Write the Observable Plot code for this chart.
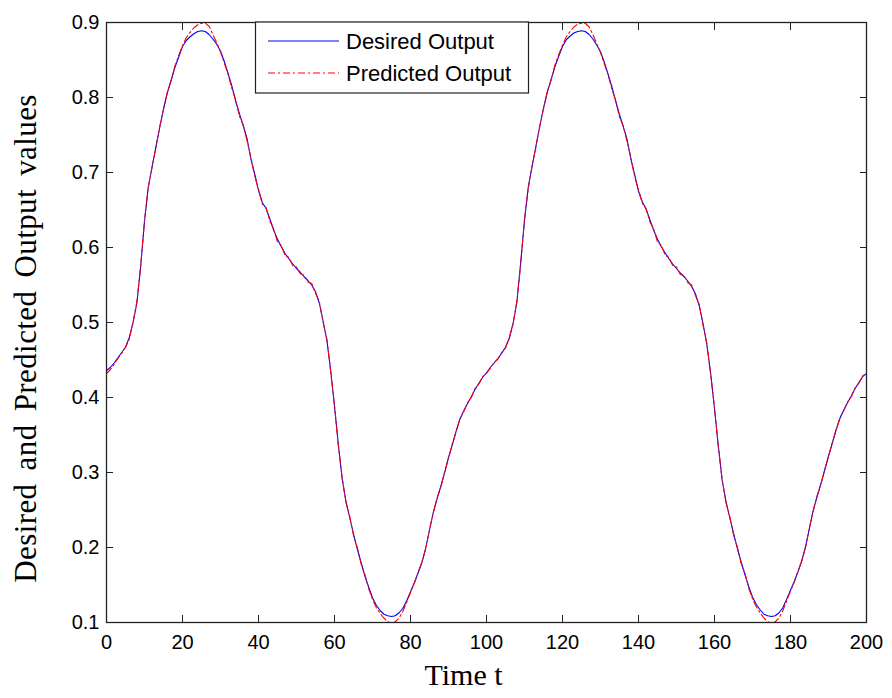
<!DOCTYPE html>
<html><head><meta charset="utf-8">
<script src="https://cdn.jsdelivr.net/npm/d3@7"></script>
<script src="https://cdn.jsdelivr.net/npm/@observablehq/plot@0.6"></script>
<style>body{margin:0;background:#fff} #chart{width:892px;height:698px}</style>
</head><body><div id="chart"></div>
<script>
// Desired output, t = 0..200
const desired = [
 0.436,0.440,0.446,0.453,0.460,0.467,0.480,0.500,0.526,0.575,
 0.635,0.681,0.707,0.734,0.760,0.785,0.806,0.823,0.840,0.854,
 0.868,0.876,0.881,0.885,0.888,0.889,0.888,0.884,0.878,0.871,
 0.862,0.848,0.832,0.815,0.795,0.778,0.762,0.745,0.718,0.698,
 0.676,0.660,0.652,0.638,0.623,0.611,0.601,0.592,0.585,0.578,
 0.572,0.567,0.561,0.556,0.550,0.541,0.526,0.502,0.476,0.436,
 0.388,0.338,0.292,0.262,0.240,0.218,0.198,0.180,0.162,0.147,
 0.133,0.123,0.116,0.111,0.109,0.108,0.109,0.113,0.119,0.129,
 0.141,0.153,0.166,0.180,0.199,0.223,0.247,0.265,0.282,0.300,
 0.320,0.337,0.355,0.371,0.382,0.392,0.401,0.411,0.419,0.427,
 0.433,
 0.440,0.446,0.452,0.459,0.467,0.479,0.499,0.527,0.580,
 0.636,0.681,0.708,0.735,0.761,0.786,0.807,0.824,0.841,0.855,
 0.868,0.877,0.882,0.886,0.888,0.889,0.888,0.884,0.878,0.870,
 0.861,0.847,0.831,0.814,0.795,0.777,0.761,0.744,0.718,0.697,
 0.675,0.661,0.651,0.637,0.623,0.611,0.601,0.593,0.585,0.578,
 0.572,0.566,0.561,0.555,0.548,0.538,0.522,0.498,0.470,0.432,
 0.385,0.336,0.290,0.262,0.240,0.219,0.199,0.181,0.164,0.148,
 0.134,0.124,0.117,0.111,0.109,0.108,0.109,0.113,0.120,0.131,
 0.143,0.155,0.168,0.183,0.202,0.226,0.250,0.268,0.285,0.303,
 0.322,0.339,0.357,0.372,0.383,0.393,0.402,0.412,0.420,0.428,
 0.432
];
// Predicted output, t = 0..200
const predicted = [
 0.432,0.437,0.444,0.452,0.459,0.467,0.478,0.501,0.528,0.576,
 0.636,0.680,0.708,0.733,0.761,0.784,0.807,0.822,0.842,0.856,
 0.869,0.880,0.887,0.893,0.897,0.899,0.899,0.895,0.884,0.873,
 0.861,0.846,0.831,0.812,0.797,0.775,0.763,0.742,0.720,0.695,
 0.678,0.658,0.653,0.635,0.625,0.607,0.603,0.589,0.587,0.576,
 0.574,0.565,0.563,0.554,0.552,0.539,0.528,0.500,0.478,0.434,
 0.390,0.336,0.294,0.260,0.242,0.216,0.200,0.178,0.164,0.145,
 0.131,0.120,0.112,0.106,0.101,0.099,0.101,0.106,0.115,0.127,
 0.140,0.152,0.167,0.181,0.198,0.224,0.246,0.266,0.281,0.301,
 0.319,0.338,0.354,0.372,0.381,0.393,0.400,0.412,0.418,0.428,
 0.432,
 0.439,0.447,0.451,0.460,0.466,0.480,0.498,0.529,0.578,
 0.638,0.679,0.709,0.734,0.762,0.785,0.808,0.823,0.843,0.857,
 0.870,0.881,0.888,0.894,0.898,0.899,0.899,0.894,0.884,0.872,
 0.860,0.845,0.830,0.811,0.796,0.774,0.762,0.741,0.720,0.694,
 0.677,0.659,0.652,0.634,0.625,0.607,0.603,0.590,0.587,0.576,
 0.574,0.564,0.563,0.553,0.550,0.536,0.524,0.496,0.472,0.430,
 0.387,0.334,0.292,0.260,0.242,0.217,0.201,0.179,0.166,0.146,
 0.132,0.121,0.113,0.106,0.101,0.099,0.101,0.106,0.116,0.129,
 0.142,0.154,0.169,0.182,0.201,0.227,0.249,0.269,0.284,0.304,
 0.321,0.340,0.356,0.373,0.382,0.394,0.401,0.413,0.419,0.429,
 0.431
];
const xTicks = [0,20,40,60,80,100,120,140,160,180,200];
const yTicks = [0.1,0.2,0.3,0.4,0.5,0.6,0.7,0.8,0.9];
const seriesNames = ["Desired Output","Predicted Output"];
const seriesColors = ["#0000ff","#ff0000"];
const seriesDash = [null,"7,3,2,3"];
const xLabel = "Time t";
const yLabel = "Desired and Predicted Output values";

const time = d3.range(desired.length);
const rowsDesired = time.map(i => ({t: i, v: desired[i]}));
const rowsPredicted = time.map(i => ({t: i, v: predicted[i]}));

const sans = "'Liberation Sans', Arial, sans-serif";
const serif = "'Liberation Serif', 'Times New Roman', serif";
const frameColor = "#222";

const chart = Plot.plot({
  width: 892, height: 698,
  marginLeft: 106, marginRight: 26, marginTop: 22, marginBottom: 76,
  style: {fontFamily: sans, fontSize: "20px", color: "#000", background: "#fff", overflow: "visible"},
  x: {domain: [0, 200]},
  y: {domain: [0.1, 0.9]},
  marks: [
    Plot.line(rowsDesired, {x: "t", y: "v", stroke: seriesColors[0], strokeWidth: 1.1, clip: true}),
    Plot.line(rowsPredicted, {x: "t", y: "v", stroke: seriesColors[1], strokeWidth: 1.1, strokeDasharray: seriesDash[1], clip: true}),
    Plot.frame({stroke: frameColor, strokeWidth: 1.3}),
    Plot.axisX(xTicks, {anchor: "bottom", tickSize: 0, tickPadding: 12, label: null, fill: "#000"}),
    Plot.axisX(xTicks, {anchor: "bottom", tickSize: -7, tickFormat: () => "", label: null, stroke: frameColor}),
    Plot.axisX(xTicks, {anchor: "top", tickSize: -7, tickFormat: () => "", label: null, stroke: frameColor}),
    Plot.axisY(yTicks, {anchor: "left", tickSize: 0, tickPadding: 7, tickFormat: d3.format(".1f"), label: null, fill: "#000"}),
    Plot.axisY(yTicks, {anchor: "left", tickSize: -7, tickFormat: () => "", label: null, stroke: frameColor}),
    Plot.axisY(yTicks, {anchor: "right", tickSize: -7, tickFormat: () => "", label: null, stroke: frameColor}),
    Plot.text([xLabel], {frameAnchor: "bottom", textAnchor: "middle", lineAnchor: "top", dx: -23, dy: 41, fontFamily: serif, fontSize: 30, fill: "#000"}),
    Plot.text([yLabel], {frameAnchor: "left", textAnchor: "middle", lineAnchor: "middle", rotate: -90, dx: -80, dy: 16, fontFamily: serif, fontSize: 31, fill: "#000"})
  ]
});

const svg = d3.select(chart);
// widen the y-axis title spacing like the original rendering
svg.selectAll("text").filter(function() { return this.textContent === yLabel; })
  .style("letter-spacing", "0.4px").style("word-spacing", "5px");

// Legend box (top-left inside the axes)
const lg = svg.append("g").attr("text-anchor", "start");
lg.append("rect").attr("x", 255.5).attr("y", 22).attr("width", 273).attr("height", 71)
  .attr("fill", "#fff").attr("stroke", frameColor).attr("stroke-width", 1.2);
seriesNames.forEach((name, i) => {
  const cy = 41 + i * 32;
  lg.append("line").attr("x1", 268).attr("x2", 339).attr("y1", cy).attr("y2", cy)
    .attr("stroke", seriesColors[i]).attr("stroke-width", 1.2)
    .attr("stroke-dasharray", seriesDash[i]);
  lg.append("text").attr("x", 346).attr("y", cy + 8).attr("text-anchor", "start")
    .attr("font-family", sans).attr("font-size", 22).attr("fill", "#000").text(name);
});

document.getElementById("chart").appendChild(chart);
</script>
</body></html>
